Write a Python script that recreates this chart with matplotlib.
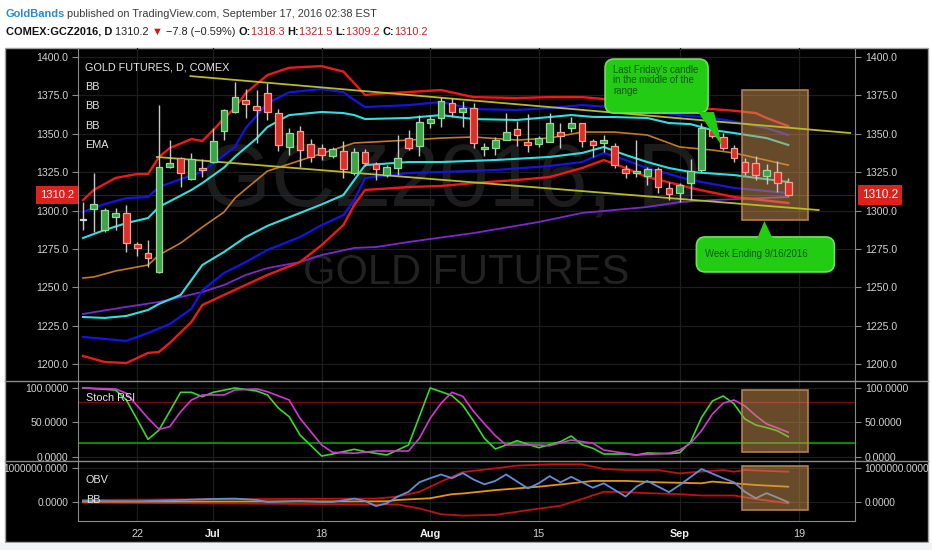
import matplotlib
matplotlib.use('Agg')
import matplotlib.pyplot as plt
import matplotlib.transforms as mtransforms
from matplotlib.patches import Rectangle, FancyBboxPatch, Polygon
from matplotlib.lines import Line2D

plt.rcParams['font.family'] = ['Liberation Sans', 'DejaVu Sans']

# daily bars: index 0 = 15 Jun 2016 ... 65 = 16 Sep 2016
bar_open = [1293.8, 1301.0, 1287.3, 1296.0, 1298.2, 1278.0, 1272.1, 1260.1, 1328.1, 1334.0,
            1320.3, 1327.5, 1331.8, 1352.0, 1364.4, 1372.0, 1368.3, 1376.3, 1363.3, 1341.2,
            1351.8, 1343.3, 1340.5, 1335.7, 1339.0, 1324.2, 1338.3, 1330.3, 1323.1, 1327.5,
            1347.0, 1342.0, 1356.8, 1360.5, 1370.2, 1364.4, 1366.6, 1340.3, 1340.5, 1345.9,
            1352.9, 1344.4, 1343.3, 1344.8, 1350.9, 1353.5, 1356.8, 1345.3, 1343.8, 1342.0,
            1327.0, 1324.6, 1322.5, 1326.8, 1314.5, 1311.2, 1317.7, 1326.4, 1352.4, 1348.1,
            1340.9, 1331.8, 1331.1, 1322.5, 1325.3, 1318.3]
bar_high = [1305.5, 1324.4, 1301.6, 1301.6, 1303.6, 1279.7, 1280.8, 1368.7, 1345.9, 1335.0,
            1337.3, 1333.4, 1353.5, 1366.0, 1383.9, 1379.0, 1378.5, 1382.9, 1366.0, 1353.5,
            1355.2, 1346.4, 1343.3, 1341.2, 1345.3, 1340.5, 1339.9, 1331.8, 1329.6, 1349.2,
            1352.4, 1362.2, 1361.5, 1374.1, 1373.0, 1371.5, 1370.2, 1343.8, 1348.1, 1363.3,
            1358.5, 1362.6, 1348.5, 1363.7, 1356.8, 1361.1, 1357.2, 1346.4, 1349.2, 1343.8,
            1329.6, 1345.9, 1328.5, 1328.5, 1318.8, 1317.7, 1333.4, 1356.8, 1355.7, 1350.3,
            1342.7, 1334.0, 1335.5, 1330.1, 1332.4, 1321.5]
bar_low = [1287.0, 1286.0, 1286.0, 1287.0, 1273.2, 1270.3, 1263.4, 1259.0, 1327.7, 1315.1,
           1320.0, 1322.0, 1331.0, 1345.9, 1363.5, 1360.1, 1344.2, 1359.0, 1339.0, 1336.2,
           1328.1, 1331.8, 1332.9, 1334.4, 1321.0, 1323.1, 1329.0, 1320.0, 1322.0, 1323.1,
           1339.4, 1335.5, 1353.5, 1354.6, 1361.1, 1354.6, 1340.5, 1335.5, 1336.2, 1345.9,
           1342.0, 1338.3, 1341.6, 1344.8, 1340.5, 1351.3, 1341.6, 1335.1, 1338.3, 1327.5,
           1321.0, 1321.6, 1316.6, 1311.6, 1306.8, 1305.7, 1306.8, 1325.3, 1347.0, 1339.4,
           1331.8, 1323.1, 1319.9, 1317.3, 1312.2, 1309.2]
bar_close = [1293.8, 1304.2, 1300.3, 1298.2, 1278.6, 1275.8, 1268.9, 1328.5, 1331.1, 1324.2,
             1333.4, 1326.4, 1345.5, 1365.5, 1373.7, 1369.2, 1365.5, 1364.0, 1342.7, 1350.7,
             1339.4, 1334.7, 1336.2, 1339.9, 1326.8, 1338.3, 1331.1, 1326.8, 1328.1, 1334.0,
             1340.5, 1357.5, 1359.6, 1371.5, 1364.4, 1366.6, 1344.2, 1341.6, 1345.9, 1351.3,
             1349.2, 1342.7, 1347.0, 1356.8, 1348.7, 1356.8, 1345.5, 1342.7, 1345.9, 1329.6,
             1324.6, 1325.7, 1326.8, 1315.5, 1310.7, 1316.6, 1325.9, 1353.5, 1348.5, 1340.9,
             1334.0, 1325.3, 1323.1, 1326.4, 1318.1, 1310.2]

# overlays (bar index, value)
bb1_up_x = [0, 1, 3, 5, 6, 7, 8, 10, 11, 12, 13, 14, 15, 17, 19, 22, 24, 25, 26, 27, 30, 33, 36, 40, 43, 46, 49, 52, 55, 58, 60, 62, 63, 65]
bb1_up_y = [1306.8, 1313.4, 1321.2, 1323.8, 1323.8, 1334.8, 1340.7, 1346.6, 1345.3, 1352.4, 1360.0, 1367.0, 1376.5, 1388.3, 1393.0,
            1394.1, 1390.5, 1383.0, 1375.2, 1376.0, 1377.2, 1378.5, 1373.9, 1373.3, 1373.9, 1373.9, 1372.0, 1369.4, 1366.8, 1366.1,
            1365.0, 1363.5, 1360.3, 1355.0]
bb1_lo_x = [0, 2, 4, 6, 7, 8, 10, 11, 13, 15, 17, 20, 22, 24, 25, 26, 30, 33, 36, 40, 43, 46, 48, 50, 52, 55, 56, 60, 65]
bb1_lo_y = [1205.2, 1201.3, 1200.6, 1207.2, 1207.8, 1213.7, 1227.4, 1238.4, 1245.0, 1251.5, 1258.0, 1266.4, 1277.5, 1290.5, 1303.6,
            1313.4, 1315.3, 1316.0, 1317.9, 1319.9, 1321.8, 1327.7, 1332.9, 1327.7, 1321.8, 1316.6, 1314.7, 1308.8, 1304.9]
bb2_up_x = [0, 2, 4, 6, 7, 10, 11, 14, 15, 17, 19, 22, 24, 25, 26, 30, 33, 36, 40, 43, 46, 50, 55, 58, 60, 63, 65]
bb2_up_y = [1299.0, 1304.2, 1308.1, 1308.8, 1315.3, 1323.0, 1325.1, 1341.4, 1353.7, 1370.0, 1377.0, 1379.2, 1377.2, 1372.0, 1367.4,
            1368.7, 1370.7, 1366.1, 1365.5, 1366.8, 1368.7, 1366.8, 1362.2, 1360.3, 1358.0, 1353.7, 1349.2]
bb2_lo_x = [0, 2, 4, 6, 8, 10, 11, 13, 15, 17, 20, 22, 24, 25, 26, 30, 33, 38, 43, 46, 48, 50, 52, 55, 56, 60, 65]
bb2_lo_y = [1217.6, 1216.3, 1215.0, 1220.2, 1226.0, 1236.0, 1248.0, 1259.3, 1266.4, 1274.3, 1282.7, 1290.5, 1297.0, 1306.8, 1321.2,
            1324.4, 1325.1, 1326.4, 1329.0, 1331.6, 1337.5, 1332.9, 1327.7, 1321.8, 1319.9, 1314.7, 1311.4]
bb3_up_x = [0, 2, 4, 6, 7, 10, 11, 13, 14, 16, 17, 19, 22, 24, 25, 26, 30, 33, 36, 40, 43, 45, 47, 49, 52, 54, 56, 58, 60, 63, 65]
bb3_up_y = [1282.1, 1287.3, 1291.8, 1295.1, 1302.3, 1313.4, 1317.9, 1328.0, 1335.0, 1347.0, 1354.4, 1362.2, 1364.2, 1363.5, 1362.2,
            1359.6, 1360.3, 1362.2, 1359.6, 1359.0, 1360.9, 1362.2, 1361.0, 1360.9, 1360.3, 1357.0, 1356.3, 1352.4, 1350.5, 1347.2, 1342.7]
bb3_lo_x = [0, 2, 4, 6, 7, 9, 11, 13, 15, 17, 20, 22, 24, 25, 26, 30, 33, 38, 43, 46, 48, 50, 52, 54, 56, 60, 65]
bb3_lo_y = [1230.6, 1230.0, 1231.3, 1235.2, 1239.1, 1245.0, 1264.5, 1273.0, 1282.7, 1290.0, 1298.4, 1304.0, 1310.1, 1319.9, 1329.6,
            1331.6, 1331.6, 1332.9, 1334.9, 1337.5, 1341.4, 1336.2, 1331.6, 1327.7, 1325.1, 1323.1, 1318.6]
ema_x = [0, 1, 3, 4, 6, 7, 9, 11, 13, 14, 15, 17, 21, 25, 30, 33, 36, 40, 43, 46, 49, 52, 55, 58, 60, 65]
ema_y = [1256.0, 1256.7, 1260.6, 1261.9, 1264.5, 1271.0, 1278.8, 1289.2, 1299.0, 1308.0, 1314.0, 1325.7, 1334.9, 1344.0, 1345.9,
         1347.2, 1347.9, 1345.9, 1347.2, 1351.1, 1351.1, 1349.2, 1341.4, 1339.4, 1337.5, 1329.6]
slow_x = [0, 4, 7, 11, 13, 15, 17, 20, 22, 25, 27, 30, 36, 42, 46, 52, 55, 58, 65]
slow_y = [1232.6, 1237.2, 1240.4, 1246.9, 1251.5, 1258.0, 1262.5, 1266.4, 1271.0, 1275.6, 1276.2, 1279.5, 1285.3, 1292.5, 1298.4,
          1302.3, 1305.5, 1306.8, 1308.8]

# trend lines (bar index, price)
trend_up = ([9.9, 70.7], [1387.6, 1350.5])
trend_lo = ([6.8, 67.8], [1334.9, 1300.3])

# Stoch RSI
k_x = [0, 3, 4, 6, 7, 9, 10, 11, 12, 14, 16, 17, 18, 19, 20, 22, 23, 25, 26, 28, 30, 32, 33, 34, 35, 36, 37, 38, 39, 40,
       42, 44, 45, 46, 47, 48, 50, 51, 52, 54, 55, 56, 57, 58, 59, 60, 61, 62, 63, 64, 65]
k_y = [100, 97, 82.6, 25.6, 39, 93.7, 93.7, 87.4, 93.7, 100, 95.6, 89.9, 71, 58.4, 31.9, 1.4, 4.3, 11.2, 7.7, 2.9, 17.4, 100,
       94.6, 89, 75, 52, 27, 11.6, 17.4, 23.6, 13.5, 22.2, 30.4, 17.4, 12.6, 4.3, 4.3, 2.9, 5.8, 4.8, 6.2, 22, 57, 81, 88.4,
       77, 55, 46.4, 42.5, 38, 29.4]
d_x = [0, 3, 4, 6, 7, 8, 9, 10, 11, 13, 14, 16, 17, 19, 20, 22, 23, 25, 27, 30, 31, 32, 33, 34, 35, 36, 37, 38, 39, 41, 42,
       43, 45, 47, 48, 51, 54, 55, 56, 57, 58, 59, 60, 61, 62, 63, 64, 65]
d_y = [100, 98.6, 92.3, 56, 40.1, 43.9, 65.7, 82.6, 89.9, 89.9, 97.1, 98.6, 94.6, 82.6, 56, 17.4, 6.8, 5.4, 8.7, 8.7, 27.1,
       56, 77.8, 93.7, 88, 66, 48, 31, 17.4, 17.4, 17.4, 16.4, 24.6, 19.9, 10.1, 2.9, 5.4, 10.1, 20, 38, 62, 78, 82.6, 74, 60,
       48, 42, 35.8]

# OBV with its bands (millions)
obv_x = [0, 5, 12, 14, 16, 17, 20, 22, 23, 25, 26, 27, 28, 29, 30, 31, 32, 33, 34, 35, 36, 37, 38, 39, 41, 42, 43, 44, 45,
         47, 48, 50, 51, 52, 54, 55, 57, 59, 60, 61, 62, 63, 64, 65]
obv_y = [0.03, 0.02, 0.09, 0.10, 0.06, 0.0, 0.03, 0.0, 0.0, 0.10, 0.03, -0.12, -0.04, 0.16, 0.30, 0.58, 0.70, 0.81, 0.70,
         0.85, 0.66, 0.52, 0.62, 0.81, 0.40, 0.55, 0.76, 0.58, 0.74, 0.42, 0.55, 0.16, 0.45, 0.62, 0.29, 0.50, 0.97, 0.70,
         0.58, 0.30, 0.11, 0.26, 0.13, -0.01]
obv_mid_x = [0, 28, 29, 32, 34, 35, 38, 42, 45, 47, 50, 53, 57, 58, 60, 62, 65]
obv_mid_y = [0.01, 0.02, 0.06, 0.11, 0.23, 0.25, 0.35, 0.45, 0.55, 0.62, 0.62, 0.58, 0.55, 0.60, 0.55, 0.50, 0.45]
obv_up_x = [0, 25, 27, 29, 31, 33, 35, 38, 40, 43, 46, 48, 50, 53, 55, 56, 59, 60, 61, 65]
obv_up_y = [0.06, 0.10, 0.10, 0.16, 0.30, 0.60, 0.88, 0.99, 1.07, 1.11, 1.11, 0.97, 0.94, 0.94, 0.84, 0.87, 0.94, 0.89, 0.94, 0.89]
obv_lo_x = [0, 27, 29, 31, 33, 35, 38, 41, 44, 46, 48, 50, 52, 55, 57, 60, 62, 65]
obv_lo_y = [-0.02, -0.07, -0.07, -0.19, -0.36, -0.40, -0.38, -0.24, -0.11, 0.09, 0.30, 0.29, 0.26, 0.23, 0.19, 0.19, 0.09, -0.04]

x_ticks = [5, 12, 22, 32, 42, 55, 66]
x_ticklabels = ['22', 'Jul', '18', 'Aug', '15', 'Sep', '19']
month_labels = ['Jul', 'Aug', 'Sep']
last_price = 1310.2

# ---------------------------------------------------------------
W, H = 932, 550
fig = plt.figure(figsize=(W / 100, H / 100), dpi=100)
fig.patch.set_facecolor('white')


def fx(p):
    return p / W


def fy(p):
    return 1 - p / H


AXC = '#8a8a8a'
TXT = '#d2d2d2'
GRID = '#1d1d1d'
LBL = 7.6   # axis label size

# black chart area
fig.add_artist(Rectangle((fx(5), fy(542)), fx(928) - fx(5), fy(48) - fy(542), transform=fig.transFigure,
                         fc='black', ec='#a0a0a0', lw=1, zorder=0))
fig.add_artist(Rectangle((0, 0), 1, fy(543), transform=fig.transFigure, fc='#f1f4f6', ec='none', zorder=0))

XL = (-0.46, 71.15)
ax = fig.add_axes([fx(78), fy(381), fx(855) - fx(78), fy(48) - fy(381)])
ax_st = fig.add_axes([fx(78), fy(461), fx(855) - fx(78), fy(381) - fy(461)])
ax_ob = fig.add_axes([fx(78), fy(521), fx(855) - fx(78), fy(461) - fy(521)])

for a in (ax, ax_st, ax_ob):
    a.set_facecolor('none')
    a.set_xlim(*XL)
    for s in a.spines.values():
        s.set_visible(False)
    a.spines['left'].set_visible(True)
    a.spines['right'].set_visible(True)
    a.spines['left'].set_color(AXC)
    a.spines['right'].set_color(AXC)
    a.tick_params(axis='y', left=True, right=True, labelleft=True, labelright=True,
                  colors=AXC, labelcolor=TXT, labelsize=LBL, length=4, pad=3)
    a.tick_params(axis='x', bottom=False, labelbottom=False, colors=AXC)
    a.set_xticks(x_ticks)
    a.grid(True, color=GRID, lw=0.9, zorder=0)
    a.set_axisbelow(True)

# panel separators
for yy in (381, 461):
    fig.add_artist(Line2D([fx(5), fx(928)], [fy(yy), fy(yy)], transform=fig.transFigure, color=AXC, lw=1))
ax_ob.spines['bottom'].set_visible(True)
ax_ob.spines['bottom'].set_color(AXC)
ax_ob.tick_params(axis='x', bottom=True, labelbottom=True, length=0, labelcolor=TXT, labelsize=7.8, pad=6)
ax_ob.set_xticklabels(x_ticklabels)
for t in ax_ob.get_xticklabels():
    if t.get_text() in month_labels:
        t.set_fontweight('bold')
        t.set_color('#f0f0f0')

# ---- main price panel ----
ax.set_ylim(1188.9, 1405.9)
ax.set_yticks(range(1200, 1401, 25))
ax.yaxis.set_major_formatter(plt.FuncFormatter(lambda v, p: f'{v:.1f}'))

ax.text(34.0, 1318, 'GCZ2016, D', fontsize=64, color='#1c1c1c', ha='center', va='center', zorder=0.5)
ax.text(35.3, 1259, 'GOLD FUTURES', fontsize=30, color='#222222', ha='center', va='center', zorder=0.5)

ax.axhline(last_price, color='#6a0c0c', lw=0.8, zorder=1)

ax.plot(slow_x, slow_y, color='#7b28d0', lw=1.3, zorder=2)
ax.plot(ema_x, ema_y, color='#c47a22', lw=1.2, zorder=2)
ax.plot(bb3_up_x, bb3_up_y, color='#2fe0e0', lw=1.5, zorder=2)
ax.plot(bb3_lo_x, bb3_lo_y, color='#2fe0e0', lw=1.5, zorder=2)
ax.plot(bb2_up_x, bb2_up_y, color='#1414e6', lw=1.6, zorder=2)
ax.plot(bb2_lo_x, bb2_lo_y, color='#1414e6', lw=1.6, zorder=2)
ax.plot(bb1_up_x, bb1_up_y, color='#f01818', lw=1.7, zorder=2)
ax.plot(bb1_lo_x, bb1_lo_y, color='#f01818', lw=1.7, zorder=2)

box_kw = dict(fc=(0.80, 0.58, 0.33, 0.5), ec=(0.72, 0.52, 0.30, 0.95), lw=1.2, zorder=3)
ax.add_patch(Rectangle((60.7, 1293.8), 6.1, 84.7, **box_kw))

ax.plot(*trend_up, color='#b9b92a', lw=1.3, zorder=3.5)
ax.plot(*trend_lo, color='#b9b92a', lw=1.3, zorder=3.5)

# candles
idx = list(range(len(bar_open)))
up_fc, up_ec = '#3fa34a', '#93dc98'
dn_fc, dn_ec = '#d8302a', '#ff9c8c'
for i in idx:
    o, h, l, c = bar_open[i], bar_high[i], bar_low[i], bar_close[i]
    ax.vlines(i, l, h, color='#c9c9c9', lw=1, zorder=4)
    if c > o:
        fc, ec = up_fc, up_ec
    elif c < o:
        fc, ec = dn_fc, dn_ec
    else:
        fc, ec = '#bdbdbd', '#d8d8d8'
    ax.bar(i, max(abs(c - o), 0.7), bottom=min(o, c), width=0.62, color=fc, edgecolor=ec, lw=0.9, zorder=5)

# labels in panel
for k, s in enumerate(['GOLD FUTURES, D, COMEX', 'BB', 'BB', 'BB', 'EMA']):
    fig.text(fx(85), fy(68 + 19.2 * k), s, color='#e6e6e6', fontsize=7.8, va='center', ha='left')

# last price tags
tag = dict(boxstyle='square,pad=0.35', fc='#d8241c', ec='none')
ax.annotate(f'{last_price:.1f}', xy=(0, last_price), xycoords=('axes fraction', 'data'), xytext=(-4, 0),
            textcoords='offset pixels', ha='right', va='center', color='white', fontsize=8, bbox=tag, zorder=10)
ax.annotate(f'{last_price:.1f}', xy=(1, last_price), xycoords=('axes fraction', 'data'), xytext=(7, 0),
            textcoords='offset pixels', ha='left', va='center', color='white', fontsize=8.5, bbox=tag, zorder=10,
            annotation_clip=False)


def callout(a, tip, box, tail, text, text_off):
    tr = mtransforms.Affine2D() + mtransforms.ScaledTranslation(tip[0], tip[1], a.transData)
    gfc, gec = '#21cc12', '#6fe060'
    a.add_patch(FancyBboxPatch(box[:2], box[2], box[3], boxstyle='round,pad=0,rounding_size=9',
                               transform=tr, fc=gfc, ec=gec, lw=1.2, zorder=8, clip_on=False))
    a.add_patch(Polygon([tail[0], (0, 0), tail[1]], closed=True, transform=tr, fc=gfc, ec='none',
                        zorder=8.5, clip_on=False))
    a.annotate(text, xy=tip, xytext=text_off, textcoords='offset pixels', ha='left', va='top',
               color='#15551a', fontsize=6.9, linespacing=1.05, zorder=9, annotation_clip=False)


callout(ax, (58.9, 1342.0), (-117, 33, 103, 54), [(-24, 34), (-8, 34)],
        "Last Friday's candle\nin the middle of the\nrange", (-109, 81))
callout(ax, (62.8, 1293.2), (-68, -51, 138, 35), [(-7, -17), (8, -17)],
        'Week Ending 9/16/2016', (-59, -28))

# ---- Stoch RSI ----
ax_st.set_ylim(-5.8, 110.1)
ax_st.set_yticks([0, 50, 100])
ax_st.yaxis.set_major_formatter(plt.FuncFormatter(lambda v, p: f'{v:.4f}'))
ax_st.axhline(80, color='#7a0a0a', lw=1, zorder=1)
ax_st.axhline(20, color='#0b8a0b', lw=1.4, zorder=1)
ax_st.plot(k_x, k_y, color='#3ad82a', lw=1.2, zorder=2)
ax_st.plot(d_x, d_y, color='#d03ad0', lw=1.2, zorder=2)
ax_st.add_patch(Rectangle((60.7, 7.2), 6.1, 89.8, **box_kw))
fig.text(fx(86), fy(398), 'Stoch RSI', color='#e6e6e6', fontsize=7.8, va='center')

# ---- OBV ----
ax_ob.set_ylim(-0.559e6, 1.206e6)
ax_ob.set_yticks([0, 1e6])
ax_ob.yaxis.set_major_formatter(plt.FuncFormatter(lambda v, p: f'{v:.4f}'))
ax_ob.tick_params(axis='y', labelsize=7.3)
ax_ob.plot(obv_up_x, [v * 1e6 for v in obv_up_y], color='#c41010', lw=1.3, zorder=2)
ax_ob.plot(obv_lo_x, [v * 1e6 for v in obv_lo_y], color='#c41010', lw=1.3, zorder=2)
ax_ob.plot(obv_mid_x, [v * 1e6 for v in obv_mid_y], color='#e8960c', lw=1.3, zorder=2)
ax_ob.plot(obv_x, [v * 1e6 for v in obv_y], color='#5e8fd8', lw=1.3, zorder=2)
ax_ob.add_patch(Rectangle((60.7, -0.235e6), 6.1, 1.295e6, **box_kw))
fig.text(fx(86), fy(480), 'OBV', color='#e6e6e6', fontsize=7.8, va='center')
fig.text(fx(86), fy(500), 'BB', color='#e6e6e6', fontsize=7.8, va='center')

# ---- header ----
renderer = fig.canvas.get_renderer()


def chain(x_px, y_px, parts, size):
    x = fx(x_px)
    for s, color, weight, fam in parts:
        kw = {'family': fam} if fam else {}
        t = fig.text(x, fy(y_px), s, color=color, fontsize=size, fontweight=weight, va='center', ha='left', **kw)
        x = t.get_window_extent(renderer=renderer).x1 / W


chain(5, 14, [('GoldBands', '#2a8bcf', 'bold', None),
              (' published on TradingView.com, September 17, 2016 02:38 EST', '#3a3a3a', 'normal', None)], 7.9)
red = '#b8262a'
chain(6, 32, [('COMEX:GCZ2016, D ', '#111111', 'bold', None),
              ('1310.2 ', '#222222', 'normal', None),
              ('\u25bc', '#d01818', 'normal', ['Liberation Sans', 'DejaVu Sans']),
              (' \u22127.8 (\u22120.59%) ', '#222222', 'normal', None),
              ('O:', '#111111', 'bold', None), ('1318.3 ', red, 'normal', None),
              ('H:', '#111111', 'bold', None), ('1321.5 ', red, 'normal', None),
              ('L:', '#111111', 'bold', None), ('1309.2 ', red, 'normal', None),
              ('C:', '#111111', 'bold', None), ('1310.2', red, 'normal', None)], 7.9)

fig.savefig('out.png', dpi=100, facecolor=fig.get_facecolor())
